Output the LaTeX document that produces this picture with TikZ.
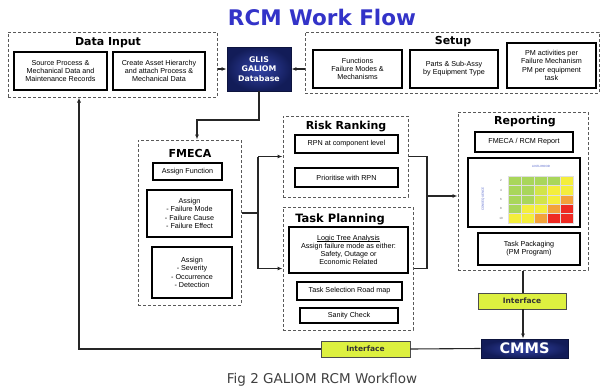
\documentclass[tikz,border=0pt]{standalone}
\usepackage{fontspec}
\setmainfont{Liberation Sans}
\newfontfamily\ttlfont{DejaVu Sans}
\usetikzlibrary{arrows.meta}
\definecolor{ttlblue}{HTML}{3333C8}
\definecolor{navy}{HTML}{121C58}
\definecolor{navyl}{HTML}{3444A8}
\definecolor{ifc}{HTML}{DDF040}
\definecolor{rmg}{HTML}{A9D65B}
\definecolor{rml}{HTML}{D2E44A}
\definecolor{rmy}{HTML}{F4EE3C}
\definecolor{rmo}{HTML}{F2A23A}
\definecolor{rmr}{HTML}{EE2A22}
\definecolor{mblue}{HTML}{5566CC}
\newcommand\placebox[7]{\node[#2, minimum width={(#5)-(#3)}, minimum height={(#6)-(#4)}] (#1) at ({((#3)+(#5))/2},{((#4)+(#6))/2}) {#7};}
\newcommand\ulin[1]{\setbox0\hbox{#1}\rlap{\rule[-1.2pt]{\wd0}{0.5pt}}\box0}
\tikzset{
  dbox/.style={draw=black!65, dash pattern=on 3pt off 2pt, line width=1pt},
  ibox/.style={draw=black, line width=1.8pt, fill=white, align=center, inner sep=1pt, font=\fontsize{7.2}{8.2}\selectfont},
  ttl/.style={font=\ttlfont\bfseries\fontsize{11}{13}\selectfont},
  conn/.style={line width=1.1pt, draw=black!85},
  arr/.style={conn, -{Latex[length=5pt,width=4pt]}},
  ifbox/.style={fill=ifc, draw=black!70, line width=0.8pt, font=\ttlfont\bfseries\fontsize{7.5}{9}\selectfont, text=black!80},
  navybox/.style={inner color=navyl, outer color=navy, draw=navy!70!black, line width=0.8pt, text=white, align=center}
}
\begin{document}
\begin{tikzpicture}[x=1pt,y=-1pt]
\useasboundingbox (0,0) rectangle (600,386);
% title
\node[font=\ttlfont\bfseries\fontsize{21.5}{24}\selectfont, text=ttlblue] (title) at (322,17) {RCM Work Flow};
% Data Input
\placebox{dinput}{dbox}{8}{32}{217}{97}{}
\node[ttl] (dinputt) at (108,43) {Data Input};
\placebox{di1}{ibox}{14}{52}{107}{90}{Source Process \&\\Mechanical Data and\\Maintenance Records}
\placebox{di2}{ibox}{113}{52}{205}{90}{Create Asset Hierarchy\\and attach Process \&\\Mechanical Data}
% GLIS
\placebox{glis}{navybox, font=\ttlfont\bfseries\fontsize{7.8}{9.3}\selectfont}{227}{47}{291}{91}{GLIS\\GALIOM\\Database}
% Setup
\placebox{setup}{dbox}{305}{32}{599}{93}{}
\node[ttl] (setupt) at (453,42) {Setup};
\placebox{s1}{ibox}{313}{50}{402}{88}{Functions\\Failure Modes \&\\Mechanisms}
\placebox{s2}{ibox}{410}{50}{498}{88}{Parts \& Sub-Assy\\by Equipment Type}
\placebox{s3}{ibox}{507}{43}{596}{88}{PM activities per\\Failure Mechanism\\PM per equipment\\task}
% FMECA
\placebox{fmeca}{dbox}{138}{140}{241}{305}{}
\node[ttl] (fmecat) at (190,153) {FMECA};
\placebox{f1}{ibox}{153}{163}{222}{180}{Assign Function}
\placebox{f2}{ibox}{147}{190}{232}{237}{Assign\\- Failure Mode\\- Failure Cause\\- Failure Effect}
\placebox{f3}{ibox}{152}{247}{232}{298}{Assign\\- Severity\\- Occurrence\\- Detection}
% Risk Ranking
\placebox{rr}{dbox}{283}{116}{408}{197}{}
\node[ttl] (rrt) at (346,127) {Risk Ranking};
\placebox{r1}{ibox}{295}{135}{398}{153}{RPN at component level}
\placebox{r2}{ibox}{295}{168}{398}{187}{Prioritise with RPN}
% Task Planning
\placebox{tp}{dbox}{283}{207}{413}{330}{}
\node[ttl, font=\ttlfont\bfseries\fontsize{11.5}{13}\selectfont] (tpt) at (340,219) {Task Planning};
\placebox{t1}{ibox}{289}{227}{408}{273}{\ulin{Logic Tree Analysis}\\Assign failure mode as either:\\Safety, Outage or\\Economic Related}
\placebox{t2}{ibox}{297}{282}{402}{300}{Task Selection Road map}
\placebox{t3}{ibox}{300}{308}{398}{323}{\raisebox{-2pt}{Sanity Check}}
% Reporting
\placebox{rep}{dbox}{458}{112}{588}{270}{}
\node[ttl] (rept) at (525,122) {Reporting};
\placebox{p1}{ibox}{475}{132}{573}{152}{FMECA / RCM Report}
\placebox{mat}{ibox}{468}{158}{580}{227}{}
\placebox{p2}{ibox}{478}{233}{580}{265}{Task Packaging\\(PM Program)}
% risk matrix
\foreach \c [count=\i from 0] in {rmg,rmg,rmg,rmg,rmy, rmg,rmg,rml,rmy,rmy, rmg,rmg,rml,rmy,rmo, rmg,rmy,rmy,rmo,rmr, rmy,rmy,rmo,rmr,rmr}{
  \pgfmathtruncatemacro\rr{\i/5}
  \pgfmathtruncatemacro\cc{mod(\i,5)}
  \fill[\c, draw=white!75!gray, line width=0.3pt] ({508+13*\cc},{176+9.4*\rr}) rectangle ++(13,9.4);
}
\node[font=\fontsize{3}{3}\selectfont, text=mblue] (lk) at (541,166) {LIKELIHOOD};
\node[font=\fontsize{3}{3}\selectfont, text=mblue, rotate=90] (cq) at (483,199) {CONSEQUENCE};
\foreach \lab [count=\j from 0] in {2,4,6,8,10}{
  \node[font=\fontsize{3}{3}\selectfont, text=black!60] (rl\j) at (501,{180.7+9.4*\j}) {\lab};
}
% Interfaces and CMMS
\placebox{if1}{ifbox}{478}{293}{566}{309}{Interface}
\placebox{cmms}{navybox, font=\ttlfont\bfseries\fontsize{14.5}{16}\selectfont}{481}{339}{568}{358}{CMMS}
\placebox{if2}{ifbox}{321}{341}{410}{357}{Interface}
% caption
\node[font=\ttlfont\fontsize{13.5}{15}\selectfont, text=black!75] (cap) at (322,380) {Fig 2 GALIOM RCM Workflow};
% connectors
\draw[arr] (glis.west -| dinput.east) -- (glis.west);
\draw[arr] (glis.east -| setup.west) -- (glis.east);
\coordinate (k1) at (197,120);
\draw[arr] (glis.south) |- (k1) -- (k1 |- fmeca.north);
\coordinate (sp) at (258,213);
\draw[conn] (sp -| fmeca.east) -- (sp);
\draw[conn] (sp |- rr.west) -- (sp |- tp.west);
\draw[arr] (sp |- rr.west) -- (rr.west);
\draw[arr] (sp |- tp.west) -- (tp.west);
\coordinate (jn) at (427,196);
\draw[conn] (rr.east) -- (rr.east -| jn) -- (tp.east -| jn) -- (tp.east);
\draw[arr] (jn) -- (jn -| rep.west);
\draw[conn] (rep.south) -- (rep.south |- if1.north);
\draw[arr] (rep.south |- if1.south) -- (rep.south |- cmms.north);
\draw[conn] (cmms.west) -- (if2.east);
\coordinate (bl) at (79,349);
\draw[arr] (if2.west) -- (bl) -- (bl |- dinput.south);
\end{tikzpicture}
\end{document}
